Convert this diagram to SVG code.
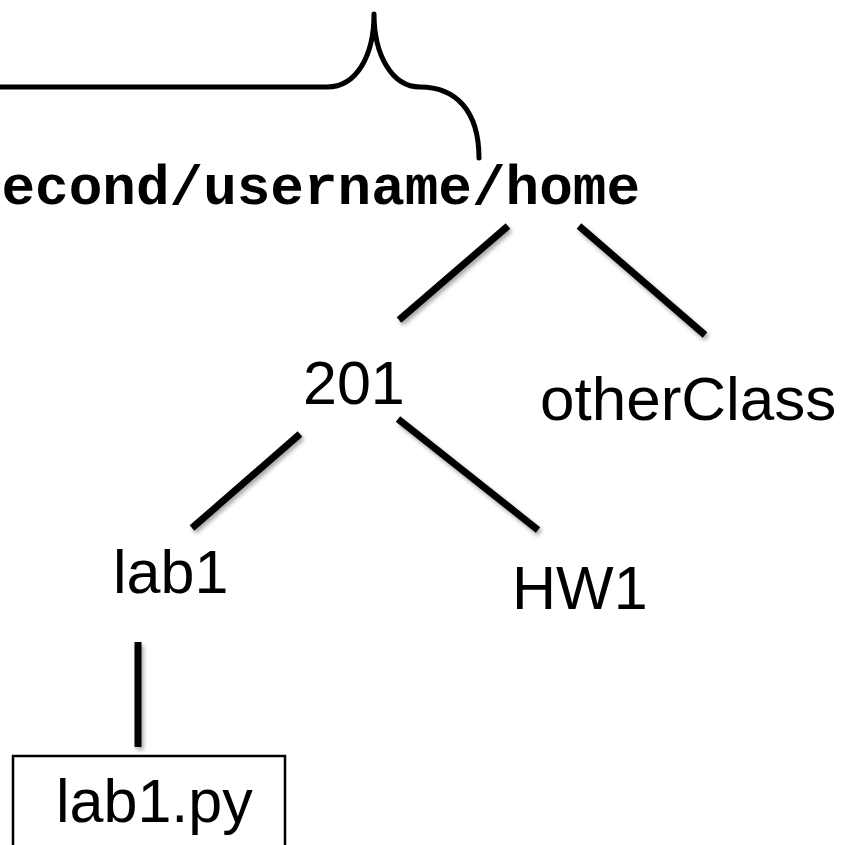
<svg xmlns="http://www.w3.org/2000/svg" width="846" height="845" viewBox="0 0 846 845">
<defs>
<filter id="sh" x="-20%" y="-20%" width="140%" height="140%">
<feDropShadow dx="2" dy="3" stdDeviation="2" flood-color="#000" flood-opacity="0.35"/>
</filter>
</defs>
<style>
.edge{stroke:#000;stroke-width:7;fill:none;stroke-linecap:butt}
.lbl{font-family:"Liberation Sans",Arial,sans-serif;font-size:61px;fill:#000}
.mono{font-family:"Courier New","Liberation Mono",monospace;font-weight:bold;font-size:56px;fill:#000}
</style>
<rect width="846" height="845" fill="#fff"/>
<g id="brace">
<path d="M0,87 L327,87 C357,87 374,55 374,14 C374,55 392,87 420,87 C455,87 479,110 479,158" fill="none" stroke="#000" stroke-width="5" stroke-linecap="round" stroke-linejoin="round"/>
</g>
<g id="connectors" filter="url(#sh)">
<line class="edge" x1="508" y1="226" x2="399" y2="320"/>
<line class="edge" x1="579" y1="226" x2="705" y2="335"/>
<line class="edge" x1="300" y1="434" x2="192" y2="528"/>
<line class="edge" x1="398" y1="419" x2="538" y2="530"/>
<line class="edge" x1="138" y1="642" x2="138" y2="747"/>
</g>
<g id="home">
<text class="mono" x="640" y="204" text-anchor="end">/second/username/home</text>
</g>
<g id="n201">
<text class="lbl" x="303" y="404">201</text>
</g>
<g id="otherClass">
<text class="lbl" x="540" y="420" style="font-size:62px">otherClass</text>
</g>
<g id="lab1">
<text class="lbl" x="113" y="593">lab1</text>
</g>
<g id="HW1">
<text class="lbl" x="512" y="609">HW1</text>
</g>
<g id="lab1py">
<rect x="13" y="756" width="272" height="100" fill="none" stroke="#000" stroke-width="2.5"/>
<text class="lbl" x="56" y="822">lab1.py</text>
</g>
</svg>
